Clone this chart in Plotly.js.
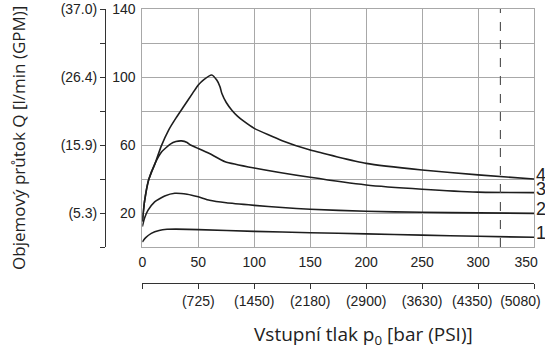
<!DOCTYPE html>
<html>
<head>
<meta charset="utf-8">
<script src="https://cdn.plot.ly/plotly-3.0.1.min.js"></script>
<style>html,body{margin:0;padding:0;background:#fff;}#chart{width:545px;height:349px;}</style>
</head>
<body>
<div id="chart"></div>
<script>
// Pressure (bar) and flow (l/min) for each curve
const x1 = [0, 3, 8, 15, 22, 30, 50, 100, 150, 200, 250, 300, 350];
const q1 = [3, 5.5, 8, 9.7, 10.4, 10.5, 10.2, 9.2, 8.4, 7.7, 7.0, 6.3, 5.7];

const x2 = [0, 2, 5, 11, 20, 29, 40, 50, 60, 75, 100, 125, 150, 200, 250, 300, 350];
const q2 = [12, 17, 21.5, 26.6, 30, 31.6, 31, 29.5, 27.5, 26, 24.5, 23.2, 22.2, 21, 20.4, 20.1, 19.8];

const x3 = [0, 2, 5.6, 11.4, 17.3, 25, 30, 35, 40, 43, 50, 60, 74, 100, 150, 200, 250, 300, 350];
const q3 = [15, 27, 39.4, 49.2, 56, 60.5, 62, 62.4, 61.5, 60, 58, 55, 50.2, 46.5, 41, 36.5, 34, 32.3, 32];

const x4 = [0, 2, 5.6, 11.4, 17, 23.5, 30, 36.8, 45, 50, 55, 62, 66.5, 69.4, 71, 75, 80, 85, 90, 100, 125, 150, 200, 250, 300, 350];
const q4 = [15, 27, 39.4, 49.2, 59.5, 68.8, 75.8, 82.5, 90.5, 95.3, 98.5, 101.2, 98.2, 94.3, 90.4, 85, 80.5, 77, 74.3, 69.8, 62.5, 57, 49.2, 45.3, 42.4, 40];

const curveLabels = ['1', '2', '3', '4'];

// Tick labels (non-breaking spaces pull the last labels inward, as in the source)
const barTicks = [0, 50, 100, 150, 200, 250, 300, 350];
const barText = ['0', '50', '100', '150', '200', '250', '300', '350\u00a0\u00a0\u00a0\u00a0'];
const psiText = ['', '(725)', '(1450)', '(2180)', '(2900)', '(3630)', '(4350)\u00a0\u00a0\u00a0', '(5080)\u00a0\u00a0\u00a0\u00a0\u00a0\u00a0\u00a0'];
const lpmTicks = [0, 20, 40, 60, 80, 100, 120, 140];
const lpmText = ['', '20', '', '60', '', '100', '', '140'];
const gpmText = ['', '(5.3)', '', '(15.9)', '', '(26.4)', '', '(37.0)'];
const maxPressure = 320;

const xTitle = 'Vstupní tlak p<sub>0</sub> [bar (PSI)]';
const yTitle = 'Objemový průtok Q [l/min (GPM)]';

const lineStyle = {color: '#1e1e1e', width: 1.6, shape: 'spline', smoothing: 0.5};
const series = [[x1, q1], [x2, q2], [x3, q3], [x4, q4]];
const traces = series.map(s => ({
  x: s[0], y: s[1], type: 'scatter', mode: 'lines', line: lineStyle,
  hoverinfo: 'skip', showlegend: false, cliponaxis: false
}));
traces.push({x: [], y: [], xaxis: 'x2', yaxis: 'y2', type: 'scatter', mode: 'lines', showlegend: false});

const tickFont = {family: 'Liberation Sans, Arial, sans-serif', size: 14, color: '#222'};

const annotations = series.map((s, i) => ({
  x: 350, y: s[1][s[1].length - 1], xref: 'x', yref: 'y',
  text: curveLabels[i], showarrow: false, xanchor: 'left', yanchor: 'middle',
  xshift: 0, yshift: 4,
  font: {family: 'Liberation Sans, Arial, sans-serif', size: 18, color: '#222'}
}));
annotations.push({
  x: 0.668, y: 0.012, xref: 'paper', yref: 'paper', text: xTitle,
  showarrow: false, xanchor: 'center', yanchor: 'middle',
  font: {family: 'Open Sans, sans-serif', size: 19, color: '#222'}
});
annotations.push({
  x: -0.004, y: 0.609, xref: 'paper', yref: 'paper', text: yTitle, textangle: -90,
  showarrow: false, xanchor: 'center', yanchor: 'middle',
  font: {family: 'Open Sans, sans-serif', size: 17, color: '#222'}
});

const layout = {
  width: 545, height: 349,
  margin: {l: 20, r: 11, t: 9, b: 10},
  paper_bgcolor: '#fff', plot_bgcolor: '#fff',
  showlegend: false,
  xaxis: {
    domain: [0.238, 1], range: [0, 350], tickvals: barTicks, ticktext: barText,
    showgrid: true, gridcolor: '#a8a8a8', gridwidth: 1, zeroline: false,
    showline: true, linecolor: '#a8a8a8', mirror: true, ticklabeloverflow: 'allow',
    tickangle: 0, ticks: '', tickfont: tickFont, ticklabelstandoff: 2, fixedrange: true
  },
  yaxis: {
    domain: [0.2788, 1], range: [0, 140], tickvals: lpmTicks, ticktext: lpmText,
    showgrid: true, gridcolor: '#a8a8a8', gridwidth: 1, zeroline: false,
    showline: true, linecolor: '#a8a8a8', mirror: true,
    ticks: '', tickfont: tickFont, ticklabelstandoff: 3, fixedrange: true
  },
  xaxis2: {
    overlaying: 'x', anchor: 'free', position: 0.1697, side: 'bottom',
    range: [0, 350], tickvals: barTicks, ticktext: psiText, ticklabeloverflow: 'allow',
    tickangle: 0,
    showgrid: false, zeroline: false, showline: true, linecolor: '#333', linewidth: 1,
    ticks: 'outside', ticklen: 5, tickcolor: '#333', tickfont: tickFont, fixedrange: true
  },
  yaxis2: {
    overlaying: 'y', anchor: 'free', position: 0.1654, side: 'left',
    range: [0, 140], tickvals: lpmTicks, ticktext: gpmText,
    showgrid: false, zeroline: false, showline: true, linecolor: '#333', linewidth: 1,
    ticks: 'outside', ticklen: 5, tickcolor: '#333', tickfont: tickFont, fixedrange: true
  },
  shapes: [{
    type: 'line', xref: 'x', yref: 'y', x0: maxPressure, x1: maxPressure, y0: 0, y1: 141.5,
    line: {color: '#555', width: 1.2, dash: 'dash'}
  }],
  annotations: annotations
};

Plotly.newPlot('chart', traces, layout, {staticPlot: true, displayModeBar: false});
</script>
</body>
</html>
